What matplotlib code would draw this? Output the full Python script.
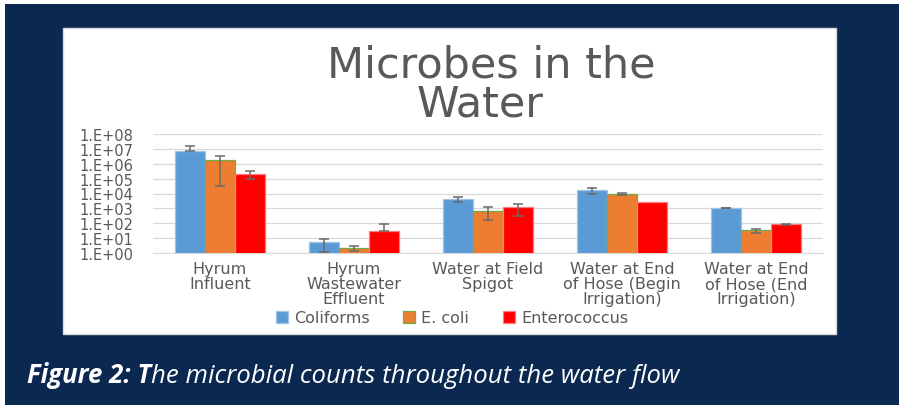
import numpy as np
import matplotlib.pyplot as plt
from matplotlib.patches import Rectangle
from matplotlib.ticker import FuncFormatter, NullLocator

# chart data (log scale)
categories = ['Hyrum\nInfluent', 'Hyrum\nWastewater\nEffluent', 'Water at Field\nSpigot',
              'Water at End\nof Hose (Begin\nIrrigation)', 'Water at End\nof Hose (End\nIrrigation)']
series = ['Coliforms', 'E. coli', 'Enterococcus']
coliforms = [6.7e6, 5.2, 4200, 16000, 1050]
coliforms_err = [1.0e7, 4.0, 1400, 6000, 60]
ecoli = [1.8e6, 2.1, 680, 10000, 33]
ecoli_err = [1.77e6, 0.7, 520, 1500, 11]
entero = [2.2e5, 29, 1150, 2500, 85]
entero_err = [1.3e5, 56, 850, 0, 3]

colors = ['#5B9BD5', '#ED7D31', '#FF0000']
edges = ['#9DC3E6', '#70AD47', '#FF7C80']
navy = '#0B2850'
grey = '#595959'

W, H = 899, 406
fig = plt.figure(figsize=(W / 100, H / 100), dpi=100)
fig.patch.set_facecolor('white')

# navy page panel and the white chart box on top of it
fig.add_artist(Rectangle((5 / W, 0), (W - 5) / W, 401 / H, transform=fig.transFigure,
                         facecolor=navy, edgecolor='none', zorder=-2))
fig.add_artist(Rectangle((63 / W, 71 / H), 773 / W, 306 / H, transform=fig.transFigure,
                         facecolor='white', edgecolor='#D9D9D9', lw=1, zorder=-1))

ax = fig.add_axes([153 / W, 152 / H, 670 / W, 119 / H])
ax.set_facecolor('none')
ax.set_yscale('log')

x = np.arange(len(categories))
width = 0.222
values = [coliforms, ecoli, entero]
errors = [coliforms_err, ecoli_err, entero_err]
handles = []
for i, (vals, errs) in enumerate(zip(values, errors)):
    vals = np.array(vals, dtype=float)
    errs = np.array(errs, dtype=float)
    pos = x + (i - 1) * width
    b = ax.bar(pos, vals, width, color=colors[i], edgecolor=edges[i], linewidth=0.9, zorder=2)
    handles.append(b)
    # minus side that would go below zero is dropped (log axis)
    lower = np.where(errs >= vals, 0, errs)
    keep = errs > 0
    ax.errorbar(pos[keep], vals[keep], yerr=[lower[keep], errs[keep]], fmt='none',
                ecolor='#6A6A6A', elinewidth=1.1, capsize=3.5, capthick=1.1, zorder=3)

ax.set_xlim(-0.5, len(categories) - 0.5)
ax.set_ylim(1, 1e8)
ax.set_yticks(10.0 ** np.arange(9))
ax.yaxis.set_minor_locator(NullLocator())
ax.yaxis.set_major_formatter(FuncFormatter(lambda v, p: '1.E+%02d' % round(np.log10(v))))
ax.set_xticks(x)
ax.set_xticklabels(categories)
for lbl in ax.get_xticklabels():
    lbl.set_linespacing(1.0)

ax.tick_params(axis='y', length=0, pad=14, labelsize=10.5, labelcolor=grey)
ax.tick_params(axis='x', length=0, pad=6, labelsize=11.5, labelcolor=grey)
ax.yaxis.grid(True, color='#D9D9D9', lw=0.9)
ax.set_axisbelow(True)
for s in ['top', 'right', 'left']:
    ax.spines[s].set_visible(False)
ax.spines['bottom'].set_color('#D9D9D9')
ax.spines['bottom'].set_zorder(1)

# title, two lines as in the reference
fig.text(491 / W, 1 - 77 / H, 'Microbes in the', ha='center', va='baseline',
         fontsize=31, color=grey)
fig.text(480 / W, 1 - 117 / H, 'Water', ha='center', va='baseline',
         fontsize=31, color=grey)

fig.legend(handles, series, loc='center', bbox_to_anchor=(452 / W, 1 - 319 / H), ncol=3,
           frameon=False, fontsize=11.5, handlelength=0.75, handleheight=0.75,
           handletextpad=0.4, columnspacing=2.1, labelcolor=grey)

# caption: bold italic lead-in, then plain italic
r = fig.canvas.get_renderer()
t1 = fig.text(27 / W, 1 - 383 / H, 'Figure 2: T', fontsize=18.5, fontfamily='Open Sans',
              fontstyle='italic', fontweight='bold', color='white', va='baseline')
bb = t1.get_window_extent(renderer=r)
fig.text(bb.x1 / W, 1 - 383 / H, 'he microbial counts throughout the water flow', fontsize=18.5,
         fontfamily='Open Sans', fontstyle='italic', color='white', va='baseline')

fig.savefig('out.png', dpi=100)
